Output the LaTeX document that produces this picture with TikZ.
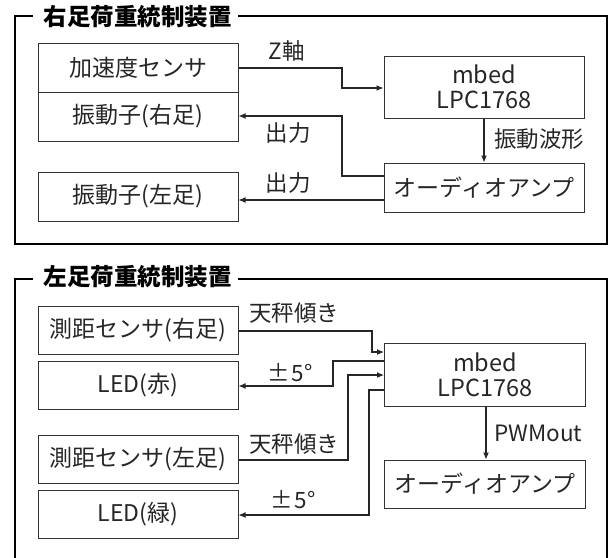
\documentclass[tikz,border=0pt]{standalone}
\usepackage{fontspec}
\setmainfont{Noto Sans CJK JP}
\usetikzlibrary{arrows.meta}
\begin{document}
\begin{tikzpicture}[x=1pt,y=-1pt,
  blk/.style={draw=black!80,line width=1pt,minimum width=200pt,inner sep=0pt,text=black!85,font=\fontsize{23}{27}\selectfont},
  lbl/.style={inner sep=0pt,text=black!85,font=\fontsize{22.5}{26}\selectfont},
  ttl/.style={inner sep=0pt,text=black,font=\fontsize{23.5}{27}\selectfont\bfseries},
  frm/.style={draw=black,line width=2.6pt},
  con/.style={draw=black!85,line width=1.1pt,-{Latex[length=7pt,width=6pt]}}]
\useasboundingbox (0,0) rectangle (610,557);
\clip (0,0) rectangle (610,557);
% ---------- top panel ----------
\draw[frm] (33,16) -- (15,16) -- (15,244) -- (607,244) -- (607,16) -- (238,16);
\node[ttl] (t1) at (137.5,16.5) {右足荷重統制装置};
\node[blk,minimum height=49pt] (acc) at (138,67.5) {加速度センサ};
\node[blk,minimum height=49pt] (vibR) at (138,116.5) {振動子(右足)};
\node[blk,minimum height=49pt] (vibL) at (138,196.5) {振動子(左足)};
\node[blk,minimum width=200pt,minimum height=62pt,align=center,font=\fontsize{23.5}{25}\selectfont] (mb1) at (484,87) {mbed\\LPC1768};
\node[blk,minimum width=200pt,minimum height=49pt] (amp1) at (484,187.5) {オーディオアンプ};
\coordinate (z1) at (342,0);
\draw[con] (acc.east |- 0,68) -| (z1 |- 0,78) |- (mb1.west |- 0,88);
\draw[con] (amp1.west |- 0,176) -| (z1 |- 0,146) |- (vibR.east |- 0,116);
\draw[con] (amp1.west |- 0,200) -- (vibL.east |- 0,200);
\draw[con] (mb1.south -| 484,0) -- (amp1.north -| 484,0);
\node[lbl] (lz) at (287,51) {Z軸};
\node[lbl] (lo1) at (288,133) {出力};
\node[lbl] (lo2) at (288,183) {出力};
\node[lbl,anchor=west] (lw) at (494,139) {振動波形};
% ---------- bottom panel ----------
\draw[frm] (33,279) -- (15,279) -- (15,600);
\draw[frm] (238,279) -- (607,279) -- (607,600);
\node[ttl] (t2) at (137.5,277) {左足荷重統制装置};
\node[blk,minimum height=48pt] (rngR) at (138,330) {測距センサ(右足)};
\node[blk,minimum height=48pt] (ledR) at (138,385) {LED(赤)};
\node[blk,minimum height=48pt] (rngL) at (138,459) {測距センサ(左足)};
\node[blk,minimum height=48pt] (ledG) at (138,514.5) {LED(緑)};
\node[blk,minimum width=201pt,minimum height=63pt,align=center,font=\fontsize{23.5}{25}\selectfont] (mb2) at (485,374.5) {mbed\\LPC1768};
\node[blk,minimum width=201pt,minimum height=48pt] (amp2) at (485,484) {オーディオアンプ};
\draw[con] (rngR.east |- 0,331) -| (372,341) |- (mb2.west |- 0,352);
\draw[con] (mb2.west |- 0,361) -| (333,373) |- (ledR.east |- 0,386);
\draw[con] (rngL.east |- 0,460) -| (348,418) |- (mb2.west |- 0,375);
\draw[con] (mb2.west |- 0,390) -| (369,450) |- (ledG.east |- 0,515);
\draw[con] (mb2.south -| 486,0) -- (amp2.north -| 486,0);
\node[lbl] (lt1) at (294,313) {天秤傾き};
\node[lbl] (lp1) at (290,373) {±\hspace{2pt}5°};
\node[lbl] (lt2) at (294,444) {天秤傾き};
\node[lbl] (lp2) at (293,500) {±\hspace{2pt}5°};
\node[lbl,anchor=west] (lpw) at (494,433) {PWMout};
\end{tikzpicture}
\end{document}
